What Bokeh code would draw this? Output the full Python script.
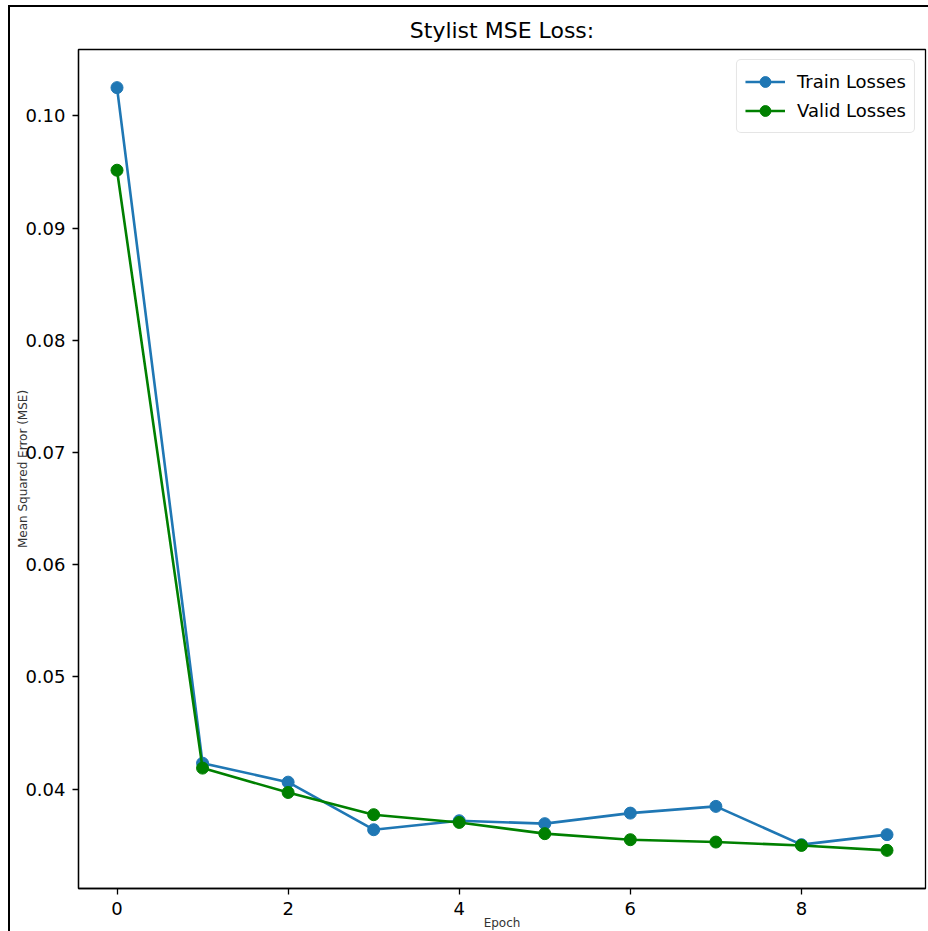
from bokeh.plotting import figure
from bokeh.models import FixedTicker, PrintfTickFormatter, Range1d, Legend, LegendItem
from bokeh.embed import file_html
from bokeh.resources import INLINE

epochs = [0, 1, 2, 3, 4, 5, 6, 7, 8, 9]
train_losses = [0.10252, 0.04231, 0.04062, 0.03638, 0.03718, 0.03692, 0.03786, 0.03846, 0.03505, 0.03594]
valid_losses = [0.09516, 0.04187, 0.03970, 0.03772, 0.03703, 0.03603, 0.03549, 0.03528, 0.03498, 0.03454]
x_ticks = [0, 2, 4, 6, 8]
y_ticks = [0.04, 0.05, 0.06, 0.07, 0.08, 0.09, 0.10]

TRAIN_COLOR = "#1f77b4"
VALID_COLOR = "#008000"
FONT = "DejaVu Sans"

allv = train_losses + valid_losses
ymin, ymax = min(allv), max(allv)
ypad = (ymax - ymin) * 0.05
xpad = (max(epochs) - min(epochs)) * 0.05

p = figure(width=920, height=926, output_backend="svg", toolbar_location=None,
           x_range=Range1d(min(epochs) - xpad, max(epochs) + xpad),
           y_range=Range1d(ymin - ypad, ymax + ypad),
           title="Stylist MSE Loss:",
           min_border_left=68, min_border_right=5, min_border_top=42, min_border_bottom=45)
p.styles = {"margin-left": "8px", "margin-top": "5px",
            "border-left": "2px solid black", "border-top": "2px solid black"}

p.title.align = "center"
p.title.vertical_align = "top"
p.title.text_font = FONT
p.title.text_font_size = "22px"
p.title.text_font_style = "normal"
p.title.text_color = "black"
p.title.text_line_height = 0.8
p.title.standoff = 10

p.xgrid.visible = False
p.ygrid.visible = False
p.outline_line_color = "black"
p.outline_line_width = 1.3
p.outline_line_alpha = 1.0
p.background_fill_color = "white"
p.border_fill_color = "white"

for ax in (p.xaxis[0], p.yaxis[0]):
    ax.axis_line_color = "black"
    ax.axis_line_width = 1.3
    ax.major_tick_line_color = "black"
    ax.major_tick_line_width = 1.3
    ax.major_tick_out = 6
    ax.major_tick_in = 0
    ax.minor_tick_out = 0
    ax.minor_tick_in = 0
    ax.major_label_text_font = FONT
    ax.major_label_text_font_size = "18px"
    ax.major_label_text_color = "black"
    ax.major_label_standoff = 7
    ax.axis_label_text_font = FONT
    ax.axis_label_text_font_size = "12px"
    ax.axis_label_text_font_style = "normal"
    ax.axis_label_text_color = "#333333"

p.xaxis.ticker = FixedTicker(ticks=x_ticks)
p.yaxis.ticker = FixedTicker(ticks=y_ticks)
p.yaxis.formatter = PrintfTickFormatter(format="%.2f")
p.xaxis.axis_label = "Epoch"
p.yaxis.axis_label = "Mean Squared Error (MSE)"
p.xaxis.axis_label_standoff = -2
p.yaxis.axis_label_standoff = -8

tl = p.line(epochs, train_losses, line_color=TRAIN_COLOR, line_width=2.6)
ts = p.scatter(epochs, train_losses, size=12, fill_color=TRAIN_COLOR, line_color=TRAIN_COLOR)
vl = p.line(epochs, valid_losses, line_color=VALID_COLOR, line_width=2.6)
vs = p.scatter(epochs, valid_losses, size=12, fill_color=VALID_COLOR, line_color=VALID_COLOR)

legend = Legend(items=[LegendItem(label="Train Losses", renderers=[tl, ts]),
                       LegendItem(label="Valid Losses", renderers=[vl, vs])],
                location="top_right")
legend.margin = 10
legend.padding = 8
legend.spacing = 2
legend.glyph_width = 40
legend.glyph_height = 27
legend.label_height = 27
legend.label_standoff = 12
legend.label_text_font = FONT
legend.label_text_font_size = "18px"
legend.label_text_color = "black"
legend.border_line_color = "#cccccc"
legend.border_line_width = 1.3
legend.background_fill_alpha = 0.8
try:
    legend.border_radius = 5
except Exception:
    pass
p.add_layout(legend, "center")

open("out.html", "w").write(file_html(p, INLINE))
